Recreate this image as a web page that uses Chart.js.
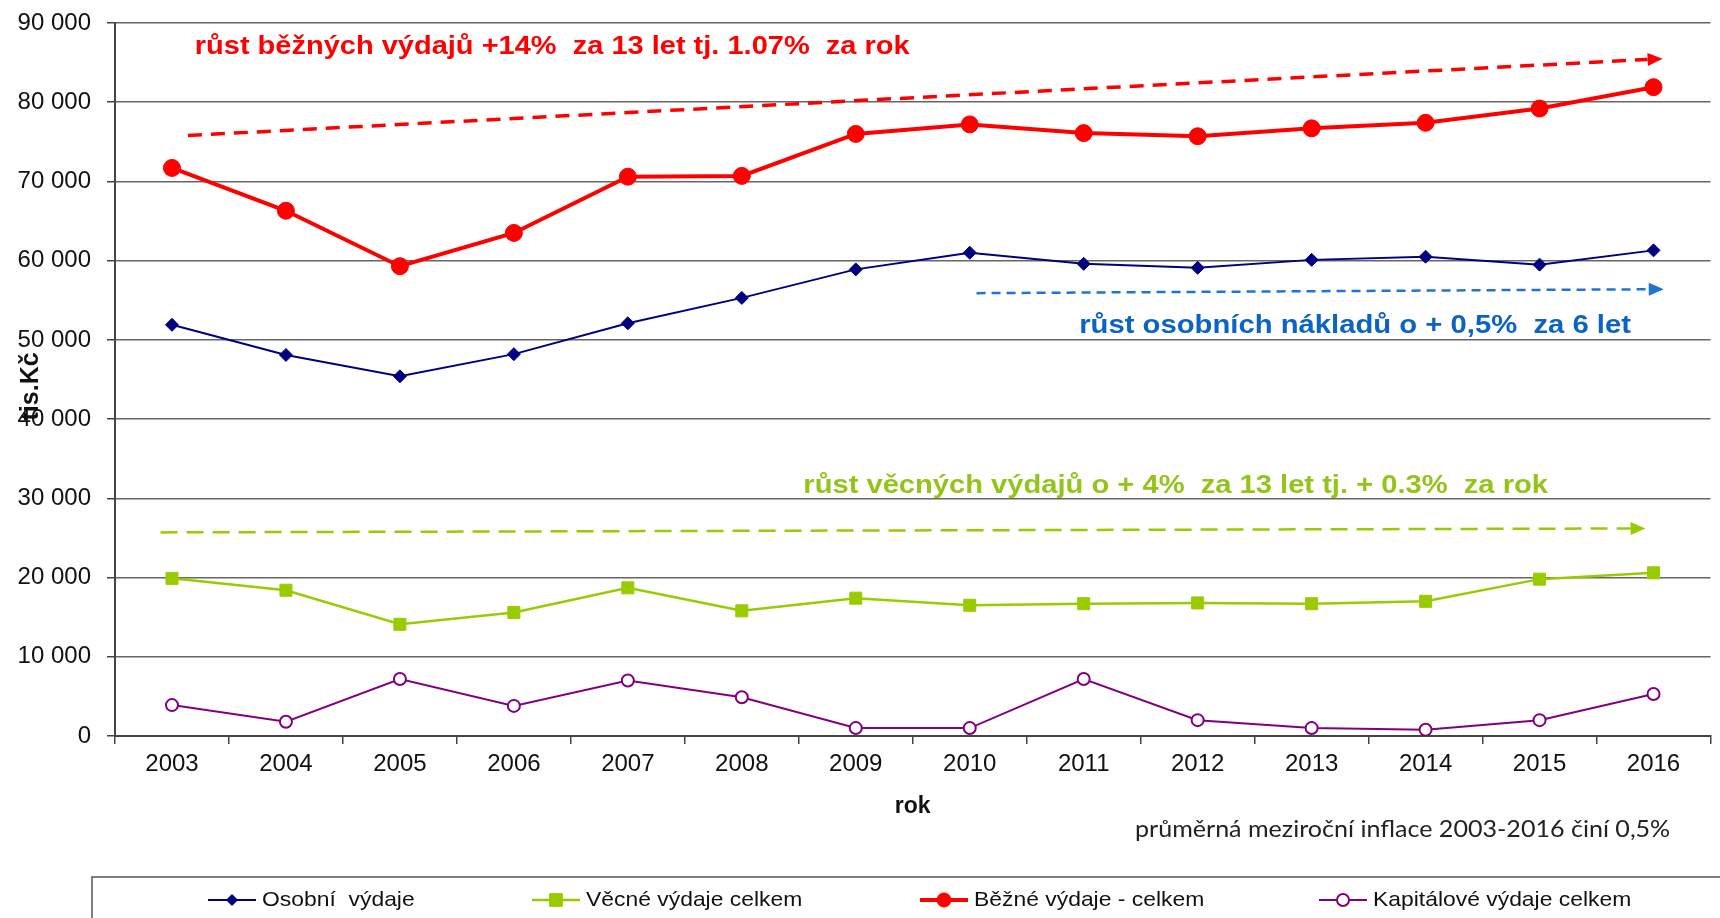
<!DOCTYPE html>
<html>
<head>
<meta charset="utf-8">
<title>Výdaje 2003-2016</title>
<script src="https://cdn.jsdelivr.net/npm/chart.js@4.4.0/dist/chart.umd.min.js"></script>
<style>
  html, body { margin: 0; padding: 0; background: #fff; }
  canvas { display: block; }
</style>
</head>
<body>
<canvas id="vydajeChart" width="1720" height="918"></canvas>
<script>
// data (tis. Kč)
const years = ['2003', '2004', '2005', '2006', '2007', '2008', '2009', '2010', '2011', '2012', '2013', '2014', '2015', '2016'];
const osobniVydaje = [51900, 48100, 45400, 48200, 52100, 55300, 58900, 61000, 59600, 59100, 60100, 60500, 59500, 61300];
const vecneVydaje = [19900, 18400, 14100, 15600, 18700, 15800, 17400, 16500, 16700, 16800, 16700, 17000, 19800, 20600];
const bezneVydaje = [71700, 66300, 59300, 63500, 70600, 70700, 76000, 77200, 76100, 75700, 76700, 77400, 79200, 81900];
const kapitaloveVydaje = [3900, 1800, 7200, 3800, 7000, 4900, 1000, 1000, 7200, 2000, 1000, 800, 2000, 5300];
const yMax = 90000;
const yStep = 10000;

// trend arrows in data units: [from index, from value, to index, to value]
const trendBezne = [0.14, 75800, 13.08, 85500];
const trendOsobni = [7.06, 55900, 13.09, 56400];
const trendVecne = [-0.1, 25700, 12.93, 26200];

const noteBezne = 'růst běžných výdajů +14%  za 13 let tj. 1.07%  za rok';
const noteOsobni = 'růst osobních nákladů o + 0,5%  za 6 let';
const noteVecne = 'růst věcných výdajů o + 4%  za 13 let tj. + 0.3%  za rok';
const noteInflace = 'průměrná meziroční inflace 2003-2016 činí 0,5%';

const FONT = '"Liberation Sans", Arial, sans-serif';
Chart.defaults.font.family = FONT;
Chart.defaults.color = '#111';

function withSpaces(v) {
    return String(v).replace(/\B(?=(\d{3})+(?!\d))/g, ' ');
}

// the original picture is a bit wide, so texts drawn by hand get stretched a little
function wideText(ctx, text, x, y, sx) {
    ctx.save();
    ctx.translate(x, y);
    ctx.scale(sx, 1);
    ctx.fillText(text, 0, 0);
    ctx.restore();
}

function drawArrow(ctx, x, y, seg, color, width, dash) {
    const x1 = x.getPixelForValue(seg[0]), y1 = y.getPixelForValue(seg[1]);
    const x2 = x.getPixelForValue(seg[2]), y2 = y.getPixelForValue(seg[3]);
    const ang = Math.atan2(y2 - y1, x2 - x1);
    const head = 15;
    ctx.save();
    ctx.strokeStyle = color;
    ctx.fillStyle = color;
    ctx.lineWidth = width;
    ctx.setLineDash(dash);
    ctx.beginPath();
    ctx.moveTo(x1, y1);
    ctx.lineTo(x2 - head * Math.cos(ang), y2 - head * Math.sin(ang));
    ctx.stroke();
    ctx.setLineDash([]);
    ctx.translate(x2, y2);
    ctx.rotate(ang);
    ctx.beginPath();
    ctx.moveTo(0, 0);
    ctx.lineTo(-head, -6.5);
    ctx.lineTo(-head, 6.5);
    ctx.closePath();
    ctx.fill();
    ctx.restore();
}

// dashed trend arrows + their captions
const trendNotes = {
    id: 'trendNotes',
    afterDatasetsDraw(chart) {
        const { ctx, scales: { x, y } } = chart;
        drawArrow(ctx, x, y, trendBezne, '#ff0000', 3.5, [14, 9]);
        drawArrow(ctx, x, y, trendOsobni, '#1f74d6', 2.5, [9, 6]);
        drawArrow(ctx, x, y, trendVecne, '#99cc00', 2.5, [17, 9]);

        ctx.save();
        ctx.font = 'bold 25px ' + FONT;
        ctx.textAlign = 'left';
        ctx.textBaseline = 'middle';
        ctx.fillStyle = '#ff0000';
        wideText(ctx, noteBezne, x.getPixelForValue(0.2), y.getPixelForValue(87000), 1.16);
        ctx.fillStyle = '#0b63c4';
        wideText(ctx, noteOsobni, x.getPixelForValue(7.96), y.getPixelForValue(51800), 1.17);
        ctx.fillStyle = '#94c41a';
        wideText(ctx, noteVecne, x.getPixelForValue(5.54), y.getPixelForValue(31600), 1.165);

        ctx.font = '23px Lato, "Open Sans", sans-serif';
        ctx.fillStyle = '#222';
        wideText(ctx, noteInflace, 1135, 830, 1.09);
        ctx.restore();
    }
};

// framed legend at the bottom, items spread like in the original
const boxLegend = {
    id: 'boxLegend',
    afterDraw(chart) {
        const ctx = chart.ctx;
        const itemX = [208, 532, 920, 1319];
        const markR = [5.5, 9, 7, 6];
        const cy = 900;
        ctx.save();
        ctx.strokeStyle = '#555';
        ctx.lineWidth = 1.5;
        ctx.strokeRect(92, 877, 1700, 80);
        ctx.font = '21px ' + FONT;
        ctx.textBaseline = 'middle';
        chart.data.datasets.forEach((ds, i) => {
            const x0 = itemX[i];
            ctx.strokeStyle = ds.borderColor;
            ctx.lineWidth = ds.borderWidth;
            ctx.beginPath();
            ctx.moveTo(x0, cy);
            ctx.lineTo(x0 + 48, cy);
            ctx.stroke();
            ctx.fillStyle = ds.pointBackgroundColor;
            ctx.strokeStyle = ds.pointBorderColor;
            ctx.lineWidth = ds.pointBorderWidth;
            Chart.helpers.drawPoint(ctx, { pointStyle: ds.pointStyle, radius: markR[i], borderWidth: ds.pointBorderWidth, rotation: 0 }, x0 + 24, cy);
            ctx.fillStyle = '#111';
            wideText(ctx, ds.label, x0 + 54, cy, 1.09);
        });
        ctx.restore();
    }
};

const ctx = document.getElementById('vydajeChart').getContext('2d');

const vydajeChart = new Chart(ctx, {
    type: 'line',
    data: {
        labels: years,
        datasets: [{
            label: 'Osobní  výdaje',
            data: osobniVydaje,
            borderColor: '#000080',
            backgroundColor: '#000080',
            borderWidth: 2,
            pointStyle: 'rectRot',
            pointRadius: 6.5,
            pointBackgroundColor: '#000080',
            pointBorderColor: '#000080',
            pointBorderWidth: 1
        }, {
            label: 'Věcné výdaje celkem',
            data: vecneVydaje,
            borderColor: '#99cc00',
            backgroundColor: '#99cc00',
            borderWidth: 2.5,
            pointStyle: 'rect',
            pointRadius: 8.5,
            pointBackgroundColor: '#99cc00',
            pointBorderColor: '#99cc00',
            pointBorderWidth: 1
        }, {
            label: 'Běžné výdaje - celkem',
            data: bezneVydaje,
            borderColor: '#ff0000',
            backgroundColor: '#ff0000',
            borderWidth: 4,
            pointStyle: 'circle',
            pointRadius: 8.5,
            pointBackgroundColor: '#ff0000',
            pointBorderColor: '#ff0000',
            pointBorderWidth: 1
        }, {
            label: 'Kapitálové výdaje celkem',
            data: kapitaloveVydaje,
            borderColor: '#800080',
            backgroundColor: '#ffffff',
            borderWidth: 2,
            pointStyle: 'circle',
            pointRadius: 6,
            pointBackgroundColor: '#ffffff',
            pointBorderColor: '#800080',
            pointBorderWidth: 2
        }]
    },
    options: {
        responsive: false,
        animation: false,
        devicePixelRatio: 1,
        layout: { padding: { top: 23, right: 0, bottom: 0, left: 0 } },
        elements: { line: { tension: 0 } },
        plugins: {
            legend: { display: false },
            tooltip: { enabled: false }
        },
        scales: {
            x: {
                offset: true,
                grid: { offset: true, drawOnChartArea: false, tickLength: 8, color: '#444', lineWidth: 1.5 },
                border: { color: '#444', width: 2 },
                ticks: { font: { size: 24 }, color: '#111', padding: 6 },
                title: { display: true, text: 'rok', font: { size: 23, weight: 'bold' }, color: '#111', padding: { top: 0, bottom: 98 } },
                afterFit(scale) { scale.height = 182; }
            },
            y: {
                min: 0,
                max: yMax,
                grid: { color: '#666', lineWidth: 1.5, tickLength: 8, tickColor: '#444' },
                border: { color: '#444', width: 2 },
                ticks: {
                    stepSize: yStep,
                    font: { size: 24 },
                    color: '#111',
                    padding: 16,
                    callback: (v) => withSpaces(v)
                },
                title: { display: true, text: 'tis.Kč  ', font: { size: 25, weight: 'bold' }, color: '#111', padding: { top: 16, bottom: 0 } },
                afterFit(scale) {
                    scale.width = 115;
                    scale.paddingTop = 0;
                    scale.paddingBottom = 0;
                }
            }
        }
    },
    plugins: [trendNotes, boxLegend]
});
</script>
</body>
</html>
